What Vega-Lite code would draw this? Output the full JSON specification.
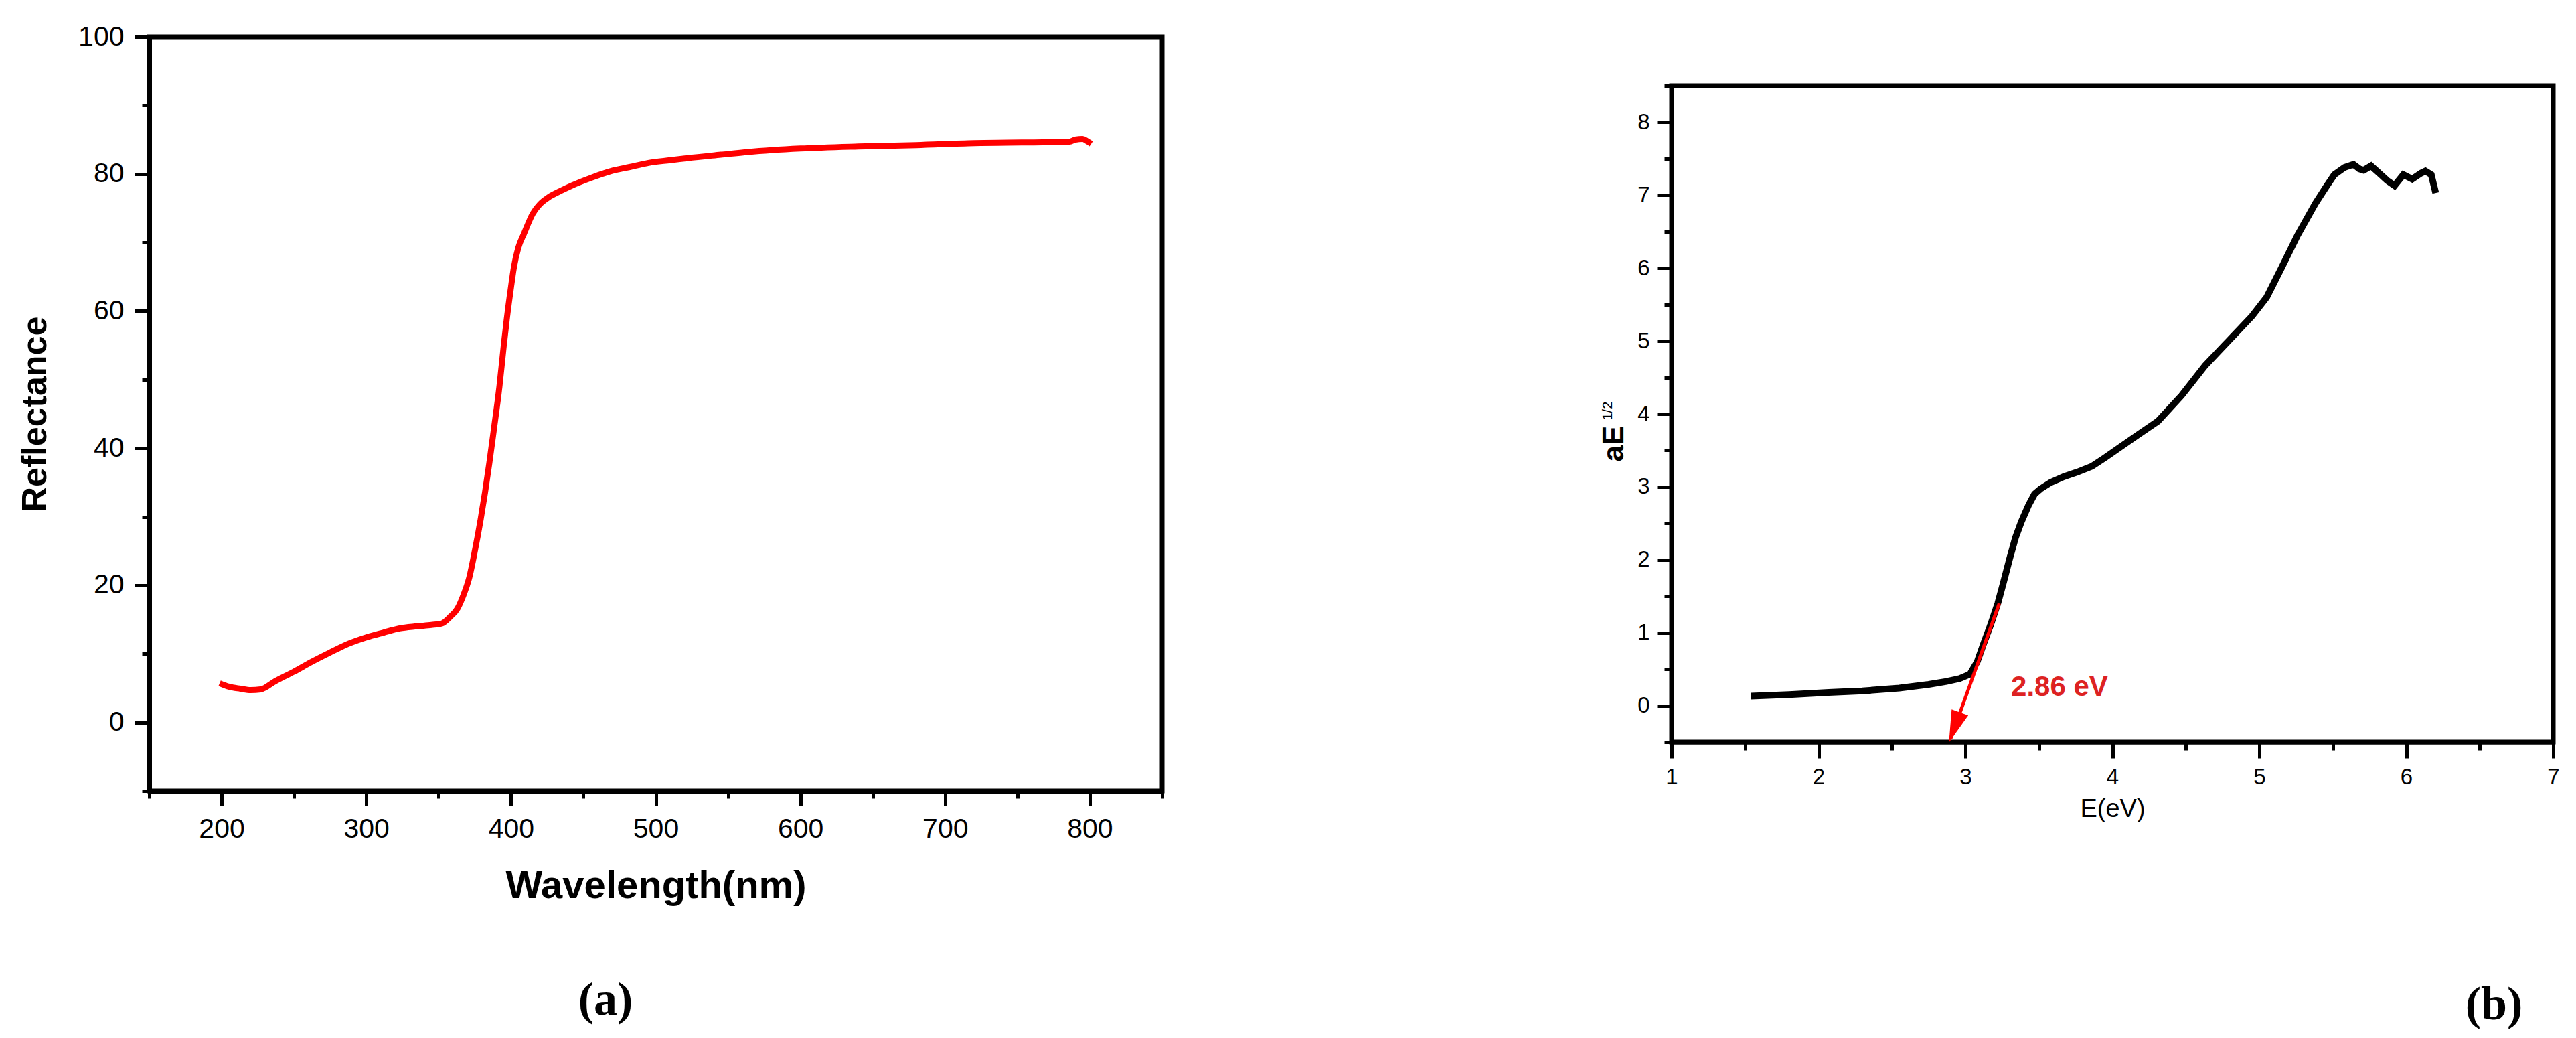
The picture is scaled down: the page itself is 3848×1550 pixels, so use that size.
{
  "$schema": "https://vega.github.io/schema/vega-lite/v6.json",
  "background": "white",
  "padding": {"left": 23, "top": 30, "right": 5, "bottom": 5},
  "bounds": "flush",
  "center": true,
  "spacing": 761,
  "config": {
    "font": "Liberation Sans",
    "view": {"stroke": "black", "strokeWidth": 7},
    "axis": {
      "grid": false,
      "domainColor": "black",
      "domainWidth": 7,
      "tickColor": "black",
      "tickWidth": 5,
      "labelColor": "black",
      "labelFont": "Liberation Sans",
      "titleColor": "black",
      "titleFont": "Liberation Sans",
      "labelFlush": false,
      "labelOverlap": false
    }
  },
  "hconcat": [
    {
      "width": 1513,
      "height": 1126,
      "title": {"text": "(a)", "orient": "bottom", "dx": -75, "offset": 108, "fontSize": 70, "font": "Liberation Serif", "fontWeight": "bold", "color": "black"},
      "data": {"values": [
        {"wl": 198.6, "r": 5.7}, {"wl": 205, "r": 5.2}, {"wl": 213, "r": 4.9}, {"wl": 220, "r": 4.7}, {"wl": 227, "r": 4.8},
        {"wl": 237, "r": 6.0}, {"wl": 250, "r": 7.4}, {"wl": 262, "r": 8.8}, {"wl": 275, "r": 10.2}, {"wl": 288, "r": 11.5},
        {"wl": 300, "r": 12.4}, {"wl": 312, "r": 13.1}, {"wl": 323, "r": 13.7}, {"wl": 335, "r": 14.0}, {"wl": 345, "r": 14.2},
        {"wl": 352, "r": 14.4}, {"wl": 358, "r": 15.4}, {"wl": 363, "r": 16.6}, {"wl": 367, "r": 18.5}, {"wl": 371, "r": 21.0},
        {"wl": 375, "r": 25.0}, {"wl": 379, "r": 29.6}, {"wl": 382, "r": 33.5}, {"wl": 385, "r": 37.8}, {"wl": 388, "r": 42.5},
        {"wl": 392, "r": 49.0}, {"wl": 395, "r": 55.0}, {"wl": 397, "r": 58.7}, {"wl": 400, "r": 63.5}, {"wl": 402, "r": 66.4},
        {"wl": 405, "r": 69.2}, {"wl": 409, "r": 71.3}, {"wl": 415, "r": 74.2}, {"wl": 420, "r": 75.6}, {"wl": 426, "r": 76.6},
        {"wl": 434, "r": 77.5}, {"wl": 442, "r": 78.3}, {"wl": 455, "r": 79.4}, {"wl": 469, "r": 80.4}, {"wl": 482, "r": 81.0},
        {"wl": 495, "r": 81.6}, {"wl": 510, "r": 82.0}, {"wl": 522, "r": 82.3}, {"wl": 545, "r": 82.8}, {"wl": 564, "r": 83.2},
        {"wl": 600, "r": 83.7}, {"wl": 640, "r": 84.0}, {"wl": 680, "r": 84.2}, {"wl": 720, "r": 84.5}, {"wl": 760, "r": 84.6},
        {"wl": 786, "r": 84.7}, {"wl": 790, "r": 85.0}, {"wl": 795, "r": 85.1}, {"wl": 798, "r": 84.8}, {"wl": 801, "r": 84.4}
      ]},
      "mark": {"type": "line", "color": "#ff0000", "strokeWidth": 9, "interpolate": "monotone"},
      "encoding": {
        "x": {
          "field": "wl", "type": "quantitative",
          "scale": {"domain": [150, 850], "nice": false, "zero": false},
          "axis": {
            "values": [150, 200, 250, 300, 350, 400, 450, 500, 550, 600, 650, 700, 750, 800, 850],
            "labelExpr": "datum.value % 100 === 0 ? datum.label : ''",
            "tickSize": {"condition": {"test": "datum.value % 100 === 0", "value": 22}, "value": 11},
            "labelFontSize": 41, "labelPadding": 15,
            "title": "Wavelength(nm)", "titleFontSize": 58, "titleFontWeight": "bold", "titlePadding": 36
          }
        },
        "y": {
          "field": "r", "type": "quantitative",
          "scale": {"domain": [-10, 100], "nice": false, "zero": false},
          "axis": {
            "values": [-10, 0, 10, 20, 30, 40, 50, 60, 70, 80, 90, 100],
            "labelExpr": "datum.value % 20 === 0 ? datum.label : ''",
            "tickSize": {"condition": {"test": "datum.value % 20 === 0", "value": 22}, "value": 11},
            "labelFontSize": 41, "labelPadding": 16,
            "title": "Reflectance", "titleFontSize": 52, "titleFontWeight": "bold", "titlePadding": 37
          }
        }
      }
    },
    {
      "width": 1317,
      "height": 980,
      "title": {"text": "(b)", "orient": "bottom", "dx": 570, "offset": 240, "fontSize": 70, "font": "Liberation Serif", "fontWeight": "bold", "color": "black"},
      "layer": [
        {
          "data": {"values": [
            {"e": 1.54, "a": 0.13}, {"e": 1.8, "a": 0.15}, {"e": 2.07, "a": 0.18}, {"e": 2.3, "a": 0.2}, {"e": 2.55, "a": 0.24},
            {"e": 2.75, "a": 0.29}, {"e": 2.87, "a": 0.33}, {"e": 2.96, "a": 0.37}, {"e": 3.03, "a": 0.43}, {"e": 3.08, "a": 0.6},
            {"e": 3.12, "a": 0.83}, {"e": 3.17, "a": 1.1}, {"e": 3.22, "a": 1.4}, {"e": 3.26, "a": 1.7}, {"e": 3.3, "a": 2.01},
            {"e": 3.34, "a": 2.3}, {"e": 3.38, "a": 2.52}, {"e": 3.43, "a": 2.75}, {"e": 3.47, "a": 2.9}, {"e": 3.51, "a": 2.97},
            {"e": 3.58, "a": 3.06}, {"e": 3.67, "a": 3.14}, {"e": 3.76, "a": 3.2}, {"e": 3.86, "a": 3.28}, {"e": 3.95, "a": 3.4},
            {"e": 4.05, "a": 3.54}, {"e": 4.18, "a": 3.72}, {"e": 4.31, "a": 3.9}, {"e": 4.47, "a": 4.25}, {"e": 4.63, "a": 4.66},
            {"e": 4.79, "a": 5.0}, {"e": 4.95, "a": 5.34}, {"e": 5.05, "a": 5.6}, {"e": 5.15, "a": 6.0}, {"e": 5.26, "a": 6.45},
            {"e": 5.38, "a": 6.88}, {"e": 5.45, "a": 7.1}, {"e": 5.51, "a": 7.28}, {"e": 5.58, "a": 7.38}, {"e": 5.64, "a": 7.42},
            {"e": 5.68, "a": 7.36}, {"e": 5.71, "a": 7.34}, {"e": 5.76, "a": 7.4}, {"e": 5.81, "a": 7.31}, {"e": 5.87, "a": 7.2},
            {"e": 5.92, "a": 7.13}, {"e": 5.98, "a": 7.28}, {"e": 6.04, "a": 7.22}, {"e": 6.1, "a": 7.3}, {"e": 6.13, "a": 7.33},
            {"e": 6.17, "a": 7.28}, {"e": 6.2, "a": 7.03}
          ]},
          "mark": {"type": "line", "color": "black", "strokeWidth": 10},
          "encoding": {
            "x": {
              "field": "e", "type": "quantitative",
              "scale": {"domain": [1, 7], "nice": false, "zero": false},
              "axis": {
                "values": [1, 1.5, 2, 2.5, 3, 3.5, 4, 4.5, 5, 5.5, 6, 6.5, 7],
                "labelExpr": "datum.value % 1 === 0 ? format(datum.value, 'd') : ''",
                "tickSize": {"condition": {"test": "datum.value % 1 === 0", "value": 24}, "value": 12},
                "domainWidth": 6,
                "labelFontSize": 33, "labelPadding": 12,
                "title": "E(eV)", "titleFontSize": 38, "titleFontWeight": "normal", "titlePadding": 12
              }
            },
            "y": {
              "field": "a", "type": "quantitative",
              "scale": {"domain": [-0.5, 8.5], "nice": false, "zero": false},
              "axis": {
                "values": [-0.5, 0, 0.5, 1, 1.5, 2, 2.5, 3, 3.5, 4, 4.5, 5, 5.5, 6, 6.5, 7, 7.5, 8, 8.5],
                "labelExpr": "datum.value % 1 === 0 ? format(datum.value, 'd') : ''",
                "tickSize": {"condition": {"test": "datum.value % 1 === 0", "value": 22}, "value": 11},
                "domainWidth": 6,
                "labelFontSize": 33, "labelPadding": 11,
                "title": "aE", "titleFontSize": 44, "titleFontWeight": "bold", "titlePadding": 12, "titleY": 534
              }
            }
          }
        },
        {
          "data": {"values": [{"e1": 3.23, "a1": 1.4, "e2": 2.9, "a2": -0.45}]},
          "mark": {"type": "rule", "color": "#ff0000", "strokeWidth": 5},
          "encoding": {
            "x": {"field": "e1", "type": "quantitative"},
            "y": {"field": "a1", "type": "quantitative"},
            "x2": {"field": "e2"},
            "y2": {"field": "a2"}
          }
        },
        {
          "data": {"values": [{"e": 2.925, "a": -0.3}]},
          "mark": {"type": "point", "shape": "M-0.55,-1L0.55,-1L0,1Z", "filled": true, "color": "#ff0000", "opacity": 1, "size": 2300, "angle": 20},
          "encoding": {
            "x": {"field": "e", "type": "quantitative"},
            "y": {"field": "a", "type": "quantitative"}
          }
        },
        {
          "data": {"values": [{"e": 3.31, "a": 0.25, "label": "2.86 eV"}]},
          "mark": {"type": "text", "color": "#dd2222", "fontSize": 42, "fontWeight": "bold", "font": "Liberation Sans", "align": "left", "baseline": "middle"},
          "encoding": {
            "x": {"field": "e", "type": "quantitative"},
            "y": {"field": "a", "type": "quantitative"},
            "text": {"field": "label"}
          }
        },
        {
          "data": {"values": [{"e": 0.565, "a": 4.04, "label": "1/2"}]},
          "mark": {"type": "text", "color": "black", "fontSize": 20, "fontWeight": "normal", "font": "Liberation Sans", "align": "center", "baseline": "middle", "angle": 270},
          "encoding": {
            "x": {"field": "e", "type": "quantitative"},
            "y": {"field": "a", "type": "quantitative"},
            "text": {"field": "label"}
          }
        }
      ]
    }
  ]
}
